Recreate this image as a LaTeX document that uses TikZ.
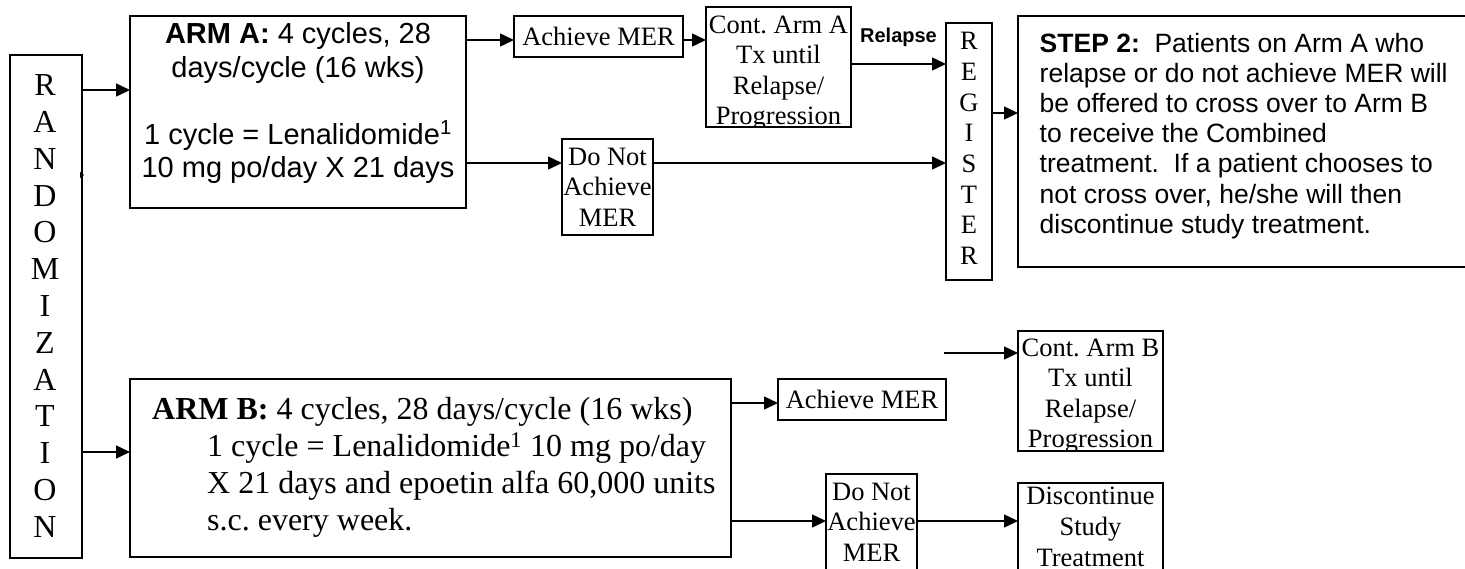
\documentclass[tikz,border=0pt]{standalone}
\usepackage{fontspec}
\setmainfont{Liberation Serif}
\newfontfamily\arialf{Liberation Sans}
\usetikzlibrary{arrows.meta}
\frenchspacing
\begin{document}
\begin{tikzpicture}[x=1pt,y=-1pt,
  box/.style={draw, line width=1.6pt, inner sep=0pt, outer sep=0pt},
  tnr/.style={font=\fontsize{26.5}{30.5}\selectfont, align=center, inner sep=0pt},
  arr/.style={line width=1.5pt, -{Triangle[length=14pt,width=13pt]}},
  sanstext/.style={inner sep=0pt, align=left, font=\arialf\fontsize{26.5}{30.2}\selectfont},
  relapselabel/.style={inner sep=0pt, font=\arialf\bfseries\fontsize{20}{24}\selectfont}
]
\useasboundingbox (0,0) rectangle (1465,568);
\clip (0,0) rectangle (1465,568);

% RANDOMIZATION
\node[box, anchor=north west, minimum width=72, minimum height=503] (rand) at (10,55) {};
\node[tnr, font=\fontsize{32}{36.8}\selectfont] (randtext) at (45,306) {R\\A\\N\\D\\O\\M\\I\\Z\\A\\T\\I\\O\\N};

% ARM A
\node[box, anchor=north west, minimum width=336, minimum height=192] (armA) at (130,16) {};
\node[align=center, inner sep=0pt, font=\arialf\fontsize{29}{33.5}\selectfont] (armAtext) at (298,103)
  {\textbf{ARM A:} 4 cycles, 28\\days/cycle (16 wks)\\[33.5pt]1 cycle = Lenalidomide\textsuperscript{1}\\10 mg po/day X 21 days};

% Achieve MER (A)
\node[box, tnr, anchor=north west, minimum width=169, minimum height=41] (achA) at (514,16) {Achieve MER};

% Cont. Arm A
\node[box, anchor=north west, minimum width=145, minimum height=120] (contA) at (706,7) {};
\begin{scope}
  \clip (contA.north west) rectangle (contA.south east);
  \node[tnr] (contAtext) at (778.5,73) {Cont. Arm A\\Tx until\\Relapse/\\Progression};
\end{scope}

% REGISTER
\node[box, anchor=north west, minimum width=46, minimum height=257] (reg) at (946,23) {};
\node[tnr, font=\fontsize{26.5}{30.7}\selectfont] (regtext) at (969,148.5) {R\\E\\G\\I\\S\\T\\E\\R};

% STEP 2
\node[box, anchor=north west, minimum width=462, minimum height=251] (step) at (1018,16) {};
\node[sanstext, anchor=west] (steptext) at (1039.5,135.8)
  {\textbf{STEP 2:}\ \ Patients on Arm A who\\relapse or do not achieve MER will\\be offered to cross over to Arm B\\to receive the Combined\\treatment.\ \ If a patient chooses to\\not cross over, he/she will then\\discontinue study treatment.};

% Do Not Achieve MER (A)
\node[box, tnr, anchor=north west, minimum width=91, minimum height=96] (donA) at (562,139) {Do Not\\Achieve\\MER};

% ARM B
\node[box, anchor=north west, minimum width=601, minimum height=178] (armB) at (130,379) {};
\node[anchor=west, align=left, inner sep=0pt, font=\fontsize{32}{37}\selectfont] (armBtext) at (152,467)
  {\textbf{ARM B:} 4 cycles, 28 days/cycle (16 wks)\\\hspace*{55pt}1 cycle = Lenalidomide\textsuperscript{1} 10 mg po/day\\\hspace*{55pt}X 21 days and epoetin alfa 60,000 units\\\hspace*{55pt}s.c. every week.};

% Achieve MER (B)
\node[box, tnr, anchor=north west, minimum width=168, minimum height=41] (achB) at (778,379) {Achieve MER};

% Do Not Achieve MER (B)
\node[box, tnr, anchor=north west, minimum width=91, minimum height=96] (donB) at (826,474) {Do Not\\Achieve\\MER};

% Cont. Arm B
\node[box, anchor=north west, minimum width=145, minimum height=120] (contB) at (1018,331) {};
\begin{scope}
  \clip (contB.north west) rectangle (contB.south east);
  \node[tnr] (contBtext) at (1090.5,396) {Cont. Arm B\\Tx until\\Relapse/\\Progression};
\end{scope}

% Discontinue Study Treatment
\node[box, anchor=north west, minimum width=145, minimum height=120] (disc) at (1018,483) {};
\node[tnr, font=\fontsize{26.5}{31}\selectfont] (disctext) at (1090.5,527) {Discontinue\\Study\\Treatment};

% connectors
\draw[arr] (rand.east |- 0,90) -- (armA.west |- 0,90);
\draw[arr] (rand.east |- 0,452) -- (armB.west |- 0,452);
\draw[line width=1pt, -{Triangle[length=4pt,width=6pt]}] (rand.east |- 0,175) -- ++(2,0);
\draw[arr] (armA.east |- 0,40) -- (achA.west |- 0,40);
\draw[arr] (achA.east |- 0,40) -- (contA.west |- 0,40);
\draw[arr] (contA.east |- 0,64) -- node[relapselabel, midway, above=17pt] {Relapse} (reg.west |- 0,64);
\draw[arr] (armA.east |- 0,163) -- (donA.west |- 0,163);
\draw[arr] (donA.east |- 0,163) -- (reg.west |- 0,163);
\draw[arr] (reg.east |- 0,113) -- (step.west |- 0,113);
\draw[arr] (armB.east |- 0,403) -- (achB.west |- 0,403);
\draw[arr] (armB.east |- 0,521) -- (donB.west |- 0,521);
\draw[arr] (donB.east |- 0,521) -- (disc.west |- 0,521);
\coordinate (freeB) at (944,353);
\draw[arr] (freeB) -- (contB.west |- freeB);
\end{tikzpicture}
\end{document}
